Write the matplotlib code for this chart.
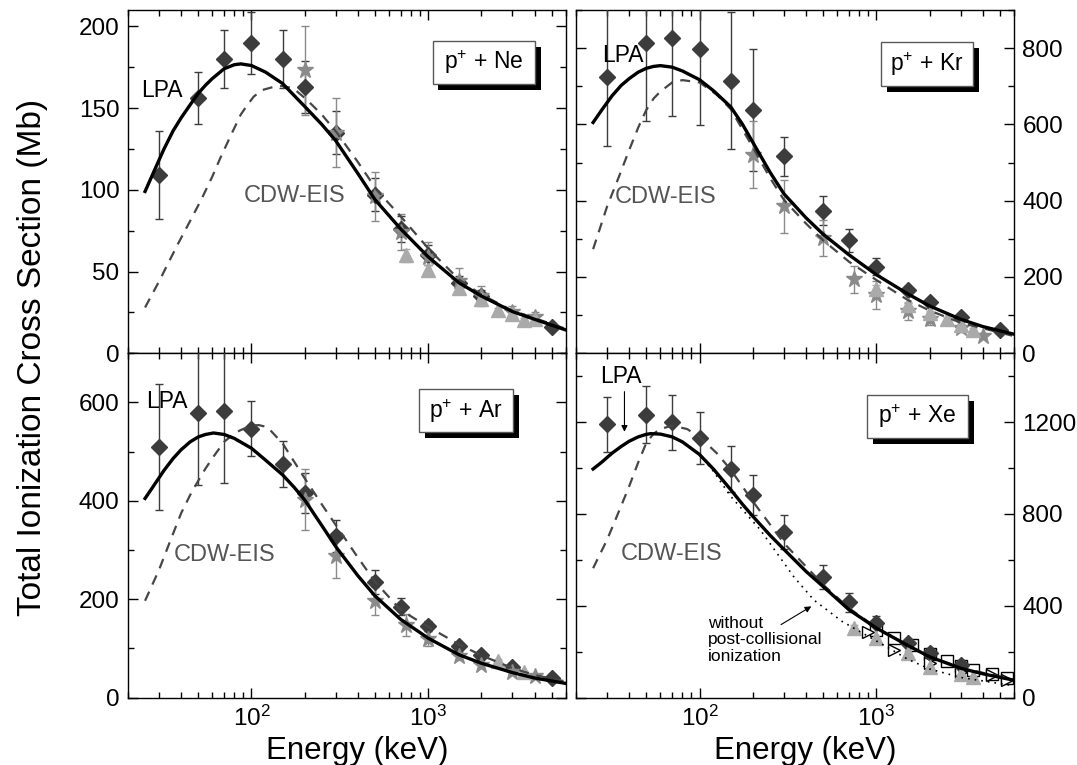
import numpy as np
import matplotlib
matplotlib.use('Agg')
import matplotlib.pyplot as plt
from matplotlib.patches import Rectangle
from matplotlib.ticker import MultipleLocator, LogLocator, NullFormatter

plt.rcParams['font.family'] = ['Liberation Sans', 'DejaVu Sans']
plt.rcParams['mathtext.fontset'] = 'custom'
plt.rcParams['mathtext.rm'] = 'Liberation Sans'
plt.rcParams['mathtext.it'] = 'Liberation Sans:italic'
plt.rcParams['mathtext.bf'] = 'Liberation Sans:bold'

# ---------------- p + Ne ----------------
ne_d_E = [30, 50, 70, 100, 150, 200, 300, 500, 700, 1000, 1500, 2000, 5000]
ne_d = [109, 156, 180, 190, 180, 163, 135, 97, 76, 60, 43, 35, 16]
ne_d_err = [27, 16, 18, 19, 18, 16, 13, 10, 8, 6, 4, 4, 2]
ne_s_E = [200, 300, 500, 700, 1000, 1500, 2000, 3000, 4000]
ne_s = [173, 135, 96, 74, 59, 44, 35, 25, 22]
ne_s_err = [27, 21, 15, 11, 9, 8, 6, 4, 3]
ne_t_E = [750, 1000, 1500, 2000, 2500, 3000, 3500, 4000]
ne_t = [60, 51, 40, 33, 26.5, 24, 20.5, 20.8]
ne_t_err = [4, 3, 2, 2, 1, 1, 1, 1]
ne_lpa_E = [25, 28, 32, 36, 40, 45, 50, 55, 60, 70, 80, 87, 100, 120, 150, 200, 250, 300, 400,
            500, 700, 1000, 1500, 2000, 3000, 4000, 6000]
ne_lpa = [99, 111, 125, 136, 144, 152, 159, 164, 168, 174, 176.5, 177, 176, 172, 165, 151, 140,
          130, 110, 94, 76, 59, 43, 35, 25.5, 20.8, 14.3]
ne_cdw_E = [25, 30, 38, 45, 52, 60, 67, 77, 87, 95, 103, 115, 134, 150, 173, 206, 250, 304, 400,
            511, 722, 1022, 1500, 2000, 3000, 4000, 6000]
ne_cdw = [28, 44, 66, 81, 94, 108, 120, 134, 146, 152, 157, 161, 163, 163.5, 162, 155, 146, 135,
          117, 100, 82, 63, 45, 36, 26, 21.5, 15]

# ---------------- p + Kr ----------------
kr_d_E = [30, 50, 70, 100, 150, 200, 300, 500, 700, 1000, 1500, 2000, 3000, 5000]
kr_d = [724, 813, 826, 798, 715, 638, 516, 374, 296, 227, 166, 134, 96, 60]
kr_d_err = [180, 205, 205, 200, 180, 160, 52, 38, 30, 22, 8, 6, 5, 4]
kr_s_E = [200, 300, 500, 750, 1000, 1500, 2000, 3000, 4000]
kr_s = [520, 385, 302, 194, 153, 110, 90, 66, 46]
kr_s_err = [88, 70, 47, 36, 36, 22, 15, 10, 6]
kr_t_E = [1000, 1500, 2000, 2500, 3000, 3500]
kr_t = [168, 127, 105, 90, 74, 62]
kr_t_err = [10, 8, 6, 5, 4, 4]
kr_lpa_E = [25, 28, 32, 36, 40, 45, 50, 55, 60, 70, 80, 100, 120, 150, 175, 200, 250, 300, 400,
            500, 700, 1000, 1500, 2000, 3000, 4000, 6000]
kr_lpa = [605, 638, 675, 702, 720, 737, 747, 752, 754, 750, 740, 717, 688, 646, 600, 553, 475,
          418, 355, 312, 258, 206, 156, 124, 89, 70, 50]
kr_cdw_E = [25, 30, 35, 40, 45, 50, 55, 60, 70, 80, 100, 125, 150, 200, 250, 300, 400, 500,
            700, 1000, 1500, 2000, 3000, 6000]
kr_cdw = [273, 385, 463, 533, 592, 638, 668, 686, 710, 716, 710, 678, 640, 540, 460, 402, 340,
          296, 240, 192, 140, 112, 80, 45]

# ---------------- p + Ar ----------------
ar_d_E = [30, 50, 70, 100, 150, 200, 300, 500, 700, 1000, 1500, 2000, 3000, 5000]
ar_d = [510, 578, 582, 547, 475, 416, 329, 235, 185, 146, 106, 86, 62, 40]
ar_d_err = [128, 145, 146, 55, 47, 40, 32, 24, 17, 10, 6, 5, 4, 3]
ar_s_E = [200, 300, 500, 750, 1000, 1500, 2000, 3000, 4000]
ar_s = [402, 287, 197, 148, 120, 85, 67, 52, 44]
ar_s_err = [62, 44, 28, 22, 15, 8, 6, 4, 3]
ar_t_E = [2500, 3500]
ar_t = [75, 52]
ar_t_err = [4, 3]
ar_lpa_E = [25, 28, 32, 36, 40, 45, 50, 55, 61, 70, 80, 100, 120, 150, 175, 200, 250, 300, 400,
            500, 700, 1000, 1500, 2000, 3000, 4000, 6000]
ar_lpa = [405, 431, 462, 486, 504, 520, 530, 535, 538, 535, 527, 507, 483, 453, 427, 402, 350,
          307, 248, 207, 159, 121, 87, 70, 51, 40, 29]
ar_cdw_E = [25, 30, 35, 40, 45, 50, 55, 61, 70, 80, 87, 100, 110, 123, 150, 200, 250, 300, 400,
            500, 700, 1000, 1500, 2000, 3000, 4000, 6000]
ar_cdw = [197, 260, 322, 375, 412, 441, 466, 490, 520, 537, 544, 553, 554, 550, 517, 446, 393,
          351, 285, 236, 178, 144, 108, 86, 60, 46, 33]

# ---------------- p + Xe ----------------
xe_d_E = [30, 50, 70, 100, 150, 200, 300, 500, 700, 1000, 1500, 2000, 3000]
xe_d = [1190, 1233, 1200, 1132, 996, 884, 720, 524, 415, 324, 237, 194, 143]
xe_d_err = [118, 125, 120, 114, 100, 88, 74, 52, 43, 30, 15, 10, 8]
xe_t_E = [750, 1000, 1500, 2000, 3000, 3500]
xe_t = [303, 258, 194, 135, 103, 92]
xe_t_err = [12, 10, 8, 6, 5, 4]
xe_sq_E = [1000, 1250, 1600, 2000, 2500, 3000, 3500, 4500, 5500]
xe_sq = [295, 262, 230, 190, 158, 138, 122, 102, 86]
xe_rt_E = [900, 1250, 2000, 3000, 4500, 5500]
xe_rt = [285, 208, 150, 110, 100, 76]
xe_lpa_E = [25, 28, 32, 36, 40, 45, 50, 53, 60, 70, 80, 100, 120, 150, 175, 200, 250, 300, 400,
            500, 700, 1000, 1500, 2000, 3000, 4000, 6000]
xe_lpa = [996, 1026, 1065, 1094, 1117, 1136, 1147, 1150, 1148, 1136, 1114, 1059, 995, 906, 842,
          790, 708, 646, 550, 484, 383, 303, 228, 178, 128, 104, 76]
xe_cdw_E = [25, 30, 35, 40, 45, 50, 55, 60, 70, 85, 100, 125, 150, 200, 300, 500, 700, 1000, 1500,
            2000, 3000, 6000]
xe_cdw = [564, 688, 812, 921, 1025, 1110, 1150, 1170, 1185, 1170, 1136, 1065, 993, 855, 673,
          492, 390, 305, 228, 180, 130, 78]
xe_nopci_E = [100, 120, 150, 220, 340, 442, 640, 1170, 1500, 2000, 3000, 6000]
xe_nopci = [1059, 985, 877, 732, 528, 426, 332, 217, 168, 125, 88, 52]

DIA = '#3c3c3c'
STAR = '#8a8a8a'
TRI = '#aaaaaa'
CDWC = '#464646'
FS = 17.5


def setup(ax, ytop, ymaj, ymin, right=False, bottom=False):
    ax.set_xscale('log')
    ax.set_xlim(20, 6000)
    ax.set_ylim(0, ytop)
    ax.xaxis.set_major_locator(LogLocator(base=10))
    ax.xaxis.set_minor_locator(LogLocator(base=10, subs=np.arange(2, 10)))
    ax.xaxis.set_minor_formatter(NullFormatter())
    ax.yaxis.set_major_locator(MultipleLocator(ymaj))
    ax.yaxis.set_minor_locator(MultipleLocator(ymin))
    ax.tick_params(which='both', direction='in', top=True, right=True, left=True,
                   bottom=True, width=1, labelsize=FS, pad=6)
    ax.tick_params(which='major', length=7)
    ax.tick_params(which='minor', length=4)
    ax.tick_params(labelleft=not right, labelright=right, labelbottom=bottom)
    for s in ax.spines.values():
        s.set_linewidth(1.0)


def data(ax, dE, d, derr, sE=None, s=None, serr=None, tE=None, t=None, terr=None):
    ax.errorbar(dE, d, yerr=derr, fmt='D', ms=8.5, color=DIA, mec=DIA, ecolor=DIA,
                elinewidth=1, capsize=3, capthick=1, zorder=3)
    if sE is not None:
        ax.errorbar(sE, s, yerr=serr, fmt='*', ms=12, color=STAR, mec=STAR, ecolor=STAR,
                    elinewidth=1, capsize=3, capthick=1, zorder=3)
    if tE is not None:
        ax.errorbar(tE, t, yerr=terr, fmt='^', ms=10, color=TRI, mec=TRI, ecolor=TRI,
                    elinewidth=1, capsize=3, capthick=1, zorder=3)


def curves(ax, lE, l, cE, c):
    ax.plot(cE, c, color=CDWC, lw=1.6, ls=(0, (4.5, 3.5)), zorder=4)
    ax.plot(lE, l, color='k', lw=2.4, zorder=5)


def tag(ax, x0, y0, x1, y1, s):
    w, h = x1 - x0, y1 - y0
    ax.add_patch(Rectangle((x0 + 0.013, y0 - 0.017), w, h, transform=ax.transAxes,
                           fc='k', ec='none', zorder=6))
    ax.add_patch(Rectangle((x0, y0), w, h, transform=ax.transAxes,
                           fc='white', ec='0.35', lw=1, zorder=7))
    ax.text(x0 + w / 2, y0 + h / 2, s, transform=ax.transAxes, ha='center',
            va='center', fontsize=16.5, zorder=8)


fig = plt.figure(figsize=(10.77, 7.65), dpi=100)
ax_ne = fig.add_axes([0.1188, 0.5382, 0.4064, 0.4488])
ax_kr = fig.add_axes([0.5348, 0.5382, 0.4067, 0.4488])
ax_ar = fig.add_axes([0.1188, 0.0880, 0.4064, 0.4502])
ax_xe = fig.add_axes([0.5348, 0.0880, 0.4067, 0.4502])

# Ne
setup(ax_ne, 210, 50, 25)
data(ax_ne, ne_d_E, ne_d, ne_d_err, sE=ne_s_E, s=ne_s, serr=ne_s_err,
     tE=ne_t_E, t=ne_t, terr=ne_t_err)
curves(ax_ne, ne_lpa_E, ne_lpa, ne_cdw_E, ne_cdw)
ax_ne.text(23.7, 161, 'LPA', fontsize=16.5, va='center', ha='left')
ax_ne.text(90, 96, 'CDW-EIS', fontsize=17, va='center', ha='left', color='#555555')
tag(ax_ne, 0.696, 0.784, 0.930, 0.910, r'p$^{+}$ + Ne')

# Kr
setup(ax_kr, 900, 200, 100, right=True)
data(ax_kr, kr_d_E, kr_d, kr_d_err, sE=kr_s_E, s=kr_s, serr=kr_s_err,
     tE=kr_t_E, t=kr_t, terr=kr_t_err)
curves(ax_kr, kr_lpa_E, kr_lpa, kr_cdw_E, kr_cdw)
ax_kr.text(28, 781, 'LPA', fontsize=16.5, va='center', ha='left')
ax_kr.text(33, 409, 'CDW-EIS', fontsize=17, va='center', ha='left', color='#555555')
tag(ax_kr, 0.696, 0.779, 0.906, 0.907, r'p$^{+}$ + Kr')

# Ar
setup(ax_ar, 700, 200, 100, bottom=True)
data(ax_ar, ar_d_E, ar_d, ar_d_err, sE=ar_s_E, s=ar_s, serr=ar_s_err,
     tE=ar_t_E, t=ar_t, terr=ar_t_err)
curves(ax_ar, ar_lpa_E, ar_lpa, ar_cdw_E, ar_cdw)
ax_ar.text(25.2, 601, 'LPA', fontsize=16.5, va='center', ha='left')
ax_ar.text(36.5, 290, 'CDW-EIS', fontsize=17, va='center', ha='left', color='#555555')
tag(ax_ar, 0.665, 0.771, 0.880, 0.896, r'p$^{+}$ + Ar')
ax_ar.set_xlabel('Energy (keV)', fontsize=22.5)
ax_ar.xaxis.set_label_coords(0.523, -0.112)

# Xe
setup(ax_xe, 1500, 400, 200, right=True, bottom=True)
data(ax_xe, xe_d_E, xe_d, xe_d_err, tE=xe_t_E, t=xe_t, terr=xe_t_err)
ax_xe.plot(xe_sq_E, xe_sq, 's', ms=9, mfc='white', mec='k', mew=1, zorder=3)
ax_xe.plot(xe_rt_E, xe_rt, '>', ms=9, mfc='white', mec='k', mew=1, zorder=3)
ax_xe.plot(xe_nopci_E, xe_nopci, color='k', lw=1.2, ls=(0, (1, 3)), zorder=4)
curves(ax_xe, xe_lpa_E, xe_lpa, xe_cdw_E, xe_cdw)
ax_xe.text(27.4, 1400, 'LPA', fontsize=16.5, va='center', ha='left')
ax_xe.annotate('', xy=(37.6, 1146), xytext=(37.6, 1345),
               arrowprops=dict(arrowstyle='-|>', color='k', lw=0.8, mutation_scale=9))
ax_xe.text(35.6, 627, 'CDW-EIS', fontsize=17, va='center', ha='left', color='#555555')
ax_xe.text(112, 355, 'without\npost-collisional\nionization', fontsize=12.5,
           va='top', ha='left', linespacing=1.1)
ax_xe.annotate('', xy=(442, 404), xytext=(280, 312),
               arrowprops=dict(arrowstyle='-|>', color='k', lw=0.8, mutation_scale=9))
tag(ax_xe, 0.664, 0.754, 0.895, 0.879, r'p$^{+}$ + Xe')
ax_xe.set_xlabel('Energy (keV)', fontsize=22.5)
ax_xe.xaxis.set_label_coords(0.523, -0.112)

fig.text(0.030, 0.533, 'Total Ionization Cross Section (Mb)', rotation=90,
         fontsize=24, ha='center', va='center')

fig.savefig('out.png', dpi=100)
